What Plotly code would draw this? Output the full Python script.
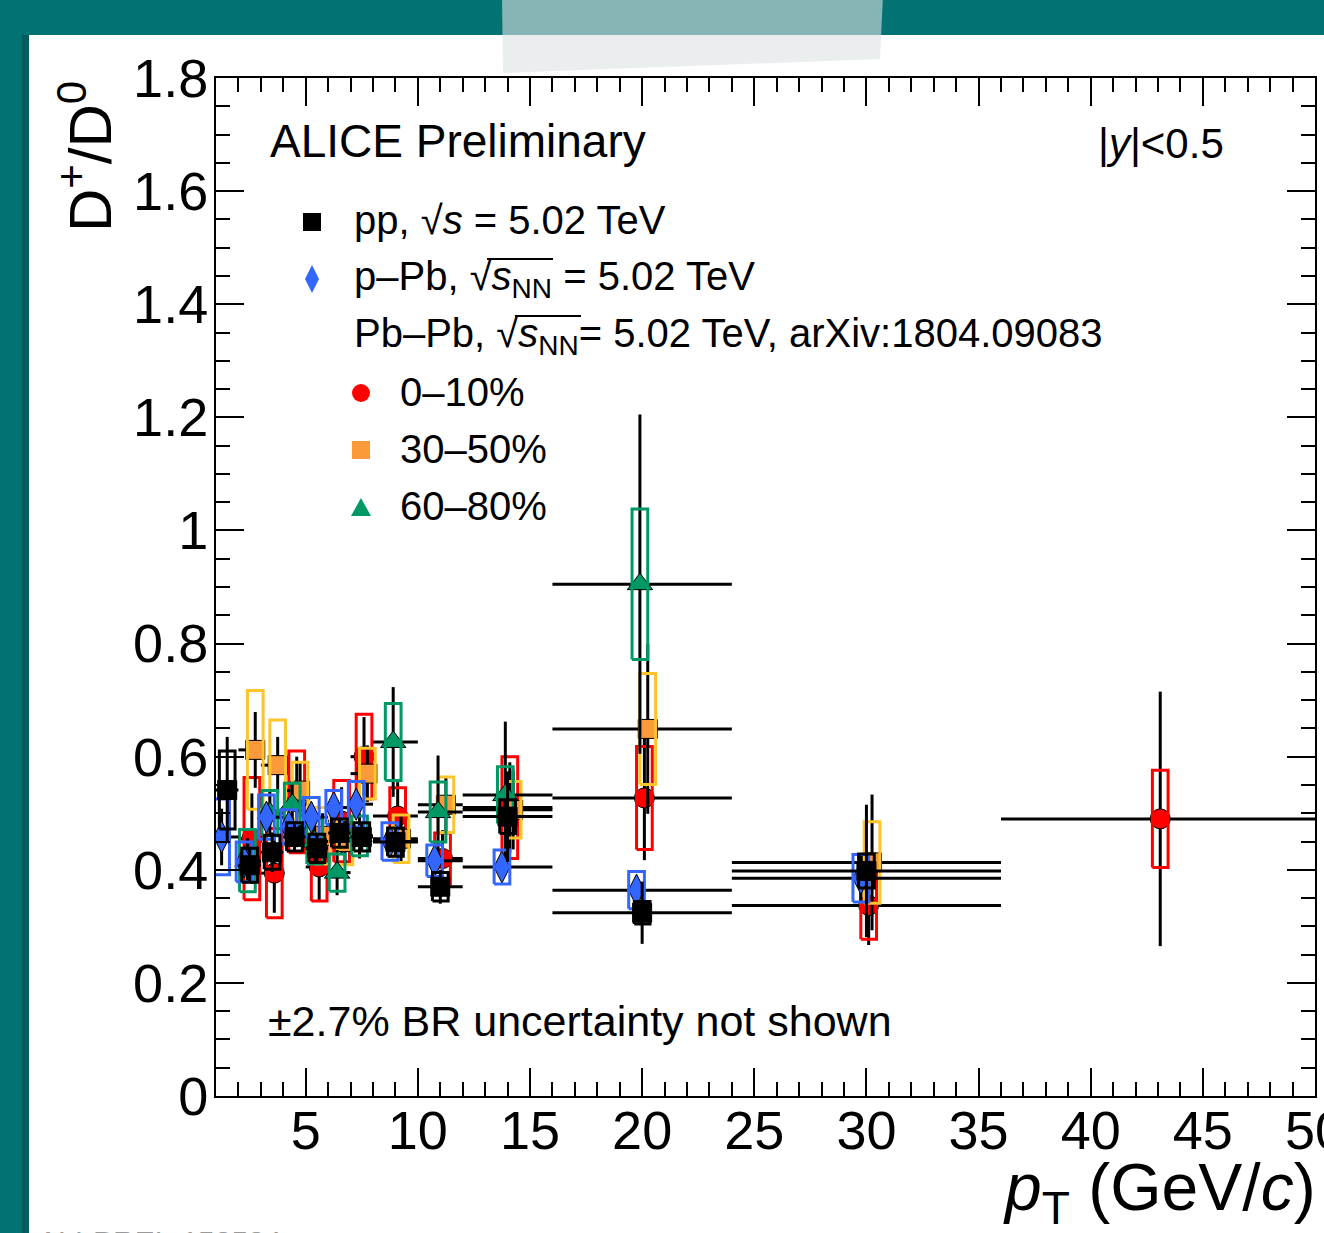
import plotly.graph_objects as go

W, H = 1324, 1233
L, R, T, B = 216, 1315, 78, 1096  # plot area in pixels

def fx(px):
    return (px - L) / (R - L)

def fy(py):
    return (B - py) / (B - T)

FONT = "Liberation Sans, Arial, Helvetica, sans-serif"

# ---------------- data ----------------
pp_pt = [1.5, 2.5, 3.5, 4.5, 5.5, 6.5, 7.5, 9, 11, 14, 20, 30]
pp_hw = [0.5, 0.5, 0.5, 0.5, 0.5, 0.5, 0.5, 1, 1, 2, 4, 6]
pp_val = [0.541, 0.408, 0.431, 0.458, 0.438, 0.465, 0.458, 0.449, 0.370, 0.494, 0.324, 0.398]
pp_stat = [0.094, 0.030, 0.035, 0.025, 0.025, 0.025, 0.025, 0.025, 0.030, 0.080, 0.055, 0.117]
pp_syst = [0.069, 0.030, 0.030, 0.025, 0.025, 0.025, 0.025, 0.025, 0.025, 0.030, 0.020, 0.030]

ppb_pt = [1.5, 2.5, 3.5, 4.5, 5.5, 6.5, 7.5, 9, 11, 14, 20, 30]
ppb_hw = [0.5, 0.5, 0.5, 0.5, 0.5, 0.5, 0.5, 1, 1, 2, 4, 6]
ppb_val = [0.458, 0.414, 0.493, 0.476, 0.493, 0.510, 0.516, 0.450, 0.416, 0.405, 0.364, 0.385]
ppb_stat = [0.050, 0.020, 0.020, 0.020, 0.020, 0.020, 0.020, 0.020, 0.020, 0.020, 0.025, 0.040]
ppb_syst = [0.067, 0.035, 0.039, 0.030, 0.035, 0.030, 0.040, 0.033, 0.028, 0.030, 0.033, 0.042]

c010_pt = [2.5, 3.5, 4.5, 5.5, 6.5, 7.5, 9, 11, 14, 20, 30, 43]
c010_hw = [0.5, 0.5, 0.5, 0.5, 0.5, 0.5, 1, 1, 2, 4, 6, 7]
c010_val = [0.455, 0.394, 0.520, 0.405, 0.486, 0.600, 0.495, 0.420, 0.510, 0.527, 0.337, 0.490]
c010_stat = [0.080, 0.070, 0.080, 0.060, 0.060, 0.070, 0.060, 0.050, 0.080, 0.110, 0.070, 0.225]
c010_syst = [0.108, 0.079, 0.090, 0.060, 0.072, 0.075, 0.050, 0.045, 0.090, 0.091, 0.060, 0.086]

c3050_pt = [2.5, 3.5, 4.5, 5.5, 6.5, 7.5, 9, 11, 14, 20, 30]
c3050_hw = [0.5, 0.5, 0.5, 0.5, 0.5, 0.5, 1, 1, 2, 4, 6]
c3050_val = [0.612, 0.585, 0.540, 0.460, 0.449, 0.570, 0.455, 0.515, 0.506, 0.649, 0.413]
c3050_stat = [0.067, 0.050, 0.050, 0.040, 0.040, 0.050, 0.040, 0.050, 0.070, 0.150, 0.120]
c3050_syst = [0.105, 0.080, 0.050, 0.050, 0.040, 0.045, 0.042, 0.049, 0.050, 0.098, 0.072]

c6080_pt = [2.5, 3.5, 4.5, 5.5, 6.5, 7.5, 9, 11, 14, 20]
c6080_hw = [0.5, 0.5, 0.5, 0.5, 0.5, 0.5, 1, 1, 2, 4]
c6080_val = [0.416, 0.500, 0.515, 0.450, 0.395, 0.460, 0.626, 0.502, 0.532, 0.905]
c6080_stat = [0.040, 0.040, 0.040, 0.040, 0.040, 0.040, 0.097, 0.100, 0.130, 0.300]
c6080_syst = [0.055, 0.040, 0.038, 0.040, 0.033, 0.035, 0.068, 0.053, 0.050, 0.133]

y_ticks = [0, 0.2, 0.4, 0.6, 0.8, 1.0, 1.2, 1.4, 1.6, 1.8]
y_ticklabels = ["0", "0.2", "0.4", "0.6", "0.8", "1", "1.2", "1.4", "1.6", "1.8"]
x_ticks = [5, 10, 15, 20, 25, 30, 35, 40, 45, 50]
x_ticklabels = ["5", "10", "15", "20", "25", "30", "35", "40", "45", "50"]

# ---------------- styling ----------------
BOX_HW = 0.35
series = [
    # pt, hw, val, stat, syst, symbol, marker color, box color, x-offset, size
    (c010_pt, c010_hw, c010_val, c010_stat, c010_syst, "circle", "#ff0000", "#ff0000", 0.10, 20),
    (c3050_pt, c3050_hw, c3050_val, c3050_stat, c3050_syst, "square", "#fb9a3a", "#fdc42c", 0.25, 19),
    (c6080_pt, c6080_hw, c6080_val, c6080_stat, c6080_syst, "triangle-up", "#009966", "#009966", -0.10, 22),
    (ppb_pt, ppb_hw, ppb_val, ppb_stat, ppb_syst, "diamond-tall", "#3366ff", "#3366ff", -0.25, 23),
    (pp_pt, pp_hw, pp_val, pp_stat, pp_syst, "square", "#000000", "#000000", 0.0, 19),
]

fig = go.Figure()

for pt, hw, val, stat, syst, sym, mcol, bcol, off, msize in series:
    xs = [p + off for p in pt]
    bx, by = [], []
    for x, v, s in zip(xs, val, syst):
        bx += [x - BOX_HW, x + BOX_HW, x + BOX_HW, x - BOX_HW, x - BOX_HW, None]
        by += [v - s, v - s, v + s, v + s, v - s, None]
    fig.add_trace(go.Scatter(
        x=xs, y=val, mode="markers",
        marker=dict(symbol=sym, size=msize, color=mcol, line=dict(color="#000000", width=1)),
        error_x=dict(type="data", symmetric=False,
                     array=[h - off for h in hw], arrayminus=[h + off for h in hw],
                     color="#000000", thickness=3, width=0),
        error_y=dict(type="data", array=stat, color="#000000", thickness=3, width=0),
        showlegend=False, hoverinfo="skip",
    ))
    fig.add_trace(go.Scatter(
        x=bx, y=by, mode="lines",
        line=dict(color=bcol, width=3),
        showlegend=False, hoverinfo="skip",
    ))

# ---------------- decorations ----------------
shapes = []
TEAL = "#027372"
# white paper
shapes.append(dict(type="rect", xref="paper", yref="paper",
                   x0=fx(29), x1=fx(W + 20), y0=fy(H + 20), y1=fy(35),
                   fillcolor="white", line=dict(width=0), layer="below"))
# shadow at paper's left edge
shapes.append(dict(type="rect", xref="paper", yref="paper",
                   x0=fx(22), x1=fx(29), y0=fy(H + 20), y1=fy(35),
                   fillcolor="rgba(0,50,50,0.35)", line=dict(width=0), layer="below"))
# tape
tape = "M {} {} L {} {} L {} {} L {} {} Z".format(
    fx(502), fy(-5), fx(883), fy(-5), fx(880), fy(59), fx(503), fy(73))
shapes.append(dict(type="path", xref="paper", yref="paper", path=tape,
                   fillcolor="rgba(222,226,226,0.6)", line=dict(width=0), layer="above"))

# legend symbols
def rect_px(cx, cy, half, color):
    return dict(type="rect", xref="paper", yref="paper",
                x0=fx(cx - half), x1=fx(cx + half), y0=fy(cy + half), y1=fy(cy - half),
                fillcolor=color, line=dict(width=0))

shapes.append(rect_px(312, 222, 9, "#000000"))
shapes.append(dict(type="path", xref="paper", yref="paper",
                   path="M {} {} L {} {} L {} {} L {} {} Z".format(
                       fx(312), fy(265), fx(319), fy(279), fx(312), fy(293), fx(305), fy(279)),
                   fillcolor="#3366ff", line=dict(width=0)))
shapes.append(dict(type="circle", xref="paper", yref="paper",
                   x0=fx(352), x1=fx(370), y0=fy(402), y1=fy(384),
                   fillcolor="#ff0000", line=dict(width=0)))
shapes.append(rect_px(361, 450, 9, "#fb9a3a"))
shapes.append(dict(type="path", xref="paper", yref="paper",
                   path="M {} {} L {} {} L {} {} Z".format(
                       fx(351), fy(516), fx(371), fy(516), fx(361), fy(498)),
                   fillcolor="#009966", line=dict(width=0)))

# overlines of the square roots
def hline_px(x0, x1, y):
    return dict(type="line", xref="paper", yref="paper",
                x0=fx(x0), x1=fx(x1), y0=fy(y), y1=fy(y),
                line=dict(color="black", width=2))

shapes.append(hline_px(487, 553, 259))
shapes.append(hline_px(515, 581, 316))

annotations = []

def txt(text, px, py, size, xanchor="left", yanchor="middle", color="black", angle=0):
    annotations.append(dict(text=text, x=fx(px), y=fy(py), xref="paper", yref="paper",
                            xanchor=xanchor, yanchor=yanchor, showarrow=False,
                            textangle=angle,
                            font=dict(family=FONT, size=size, color=color)))

txt("ALICE Preliminary", 268, 141, 46)
txt("|<i>y</i>|<0.5", 1226, 143, 42, xanchor="right")
txt("pp, √<i>s</i> = 5.02 TeV", 352, 220, 40)
txt("p–Pb, √<i>s</i><sub>NN</sub> = 5.02 TeV", 352, 279, 40)
txt("Pb–Pb, √<i>s</i><sub>NN</sub>= 5.02 TeV, arXiv:1804.09083", 352, 336, 40)
txt("0–10%", 398, 392, 40)
txt("30–50%", 398, 449, 40)
txt("60–80%", 398, 506, 40)
txt("±2.7% BR uncertainty not shown", 266, 1021, 43)
txt("D<sup>+</sup>/D<sup>0</sup>", 86, 157, 60, xanchor="center", angle=-90)
txt("<i>p</i><sub>T</sub> (GeV/<i>c</i>)", 1318, 1192, 66, xanchor="right")
txt("ALI-PREL-158584", 36, 1223, 30, yanchor="top", color="#9a9a9a")

fig.update_layout(
    width=W, height=H,
    margin=dict(l=L, r=W - R, t=T, b=H - B, pad=0, autoexpand=False),
    paper_bgcolor=TEAL, plot_bgcolor="white",
    shapes=shapes, annotations=annotations,
    font=dict(family=FONT, color="black"),
    xaxis=dict(range=[1, 50], tickvals=x_ticks, ticktext=x_ticklabels,
               ticks="inside", ticklen=28, tickwidth=2, tickcolor="black",
               showline=True, linecolor="black", linewidth=2, mirror="allticks",
               showgrid=False, zeroline=False, ticklabelstandoff=-14,
               ticklabeloverflow="allow", automargin=False,
               tickfont=dict(family=FONT, size=54, color="black"),
               minor=dict(dtick=1, tick0=0, ticks="inside", ticklen=14, tickwidth=2,
                          tickcolor="black", showgrid=False)),
    yaxis=dict(range=[0, 1.8], tickvals=y_ticks, ticktext=y_ticklabels,
               ticks="inside", ticklen=28, tickwidth=2, tickcolor="black",
               showline=True, linecolor="black", linewidth=2, mirror="allticks",
               showgrid=False, zeroline=False, ticklabelstandoff=-5,
               ticklabeloverflow="allow", automargin=False,
               tickfont=dict(family=FONT, size=54, color="black"),
               minor=dict(dtick=0.05, tick0=0, ticks="inside", ticklen=14, tickwidth=2,
                          tickcolor="black", showgrid=False)),
)

fig.write_html("out.html")
